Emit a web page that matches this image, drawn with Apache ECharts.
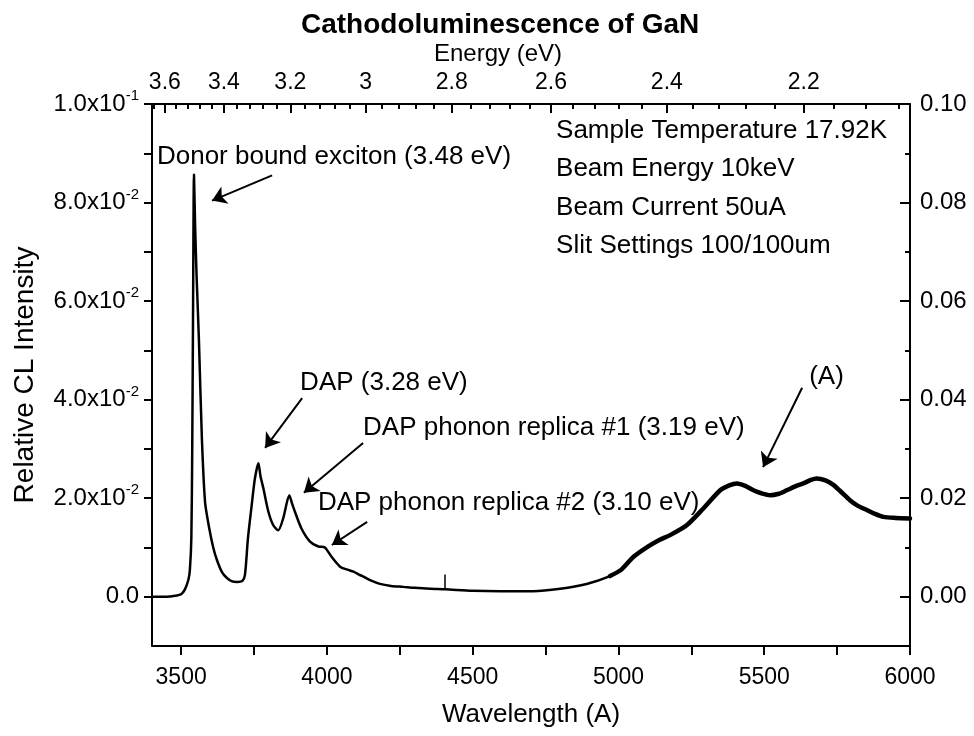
<!DOCTYPE html>
<html>
<head>
<meta charset="utf-8">
<title>Cathodoluminescence of GaN</title>
<script src="https://cdn.jsdelivr.net/npm/echarts@6/dist/echarts.min.js"></script>
<style>
html, body { margin: 0; padding: 0; background: #fff; }
#chart { width: 974px; height: 736px; }
</style>
</head>
<body>
<div id="chart"></div>
<script>
// spectrum: wavelength (A) / relative CL intensity
const wavelength = [
    3400, 3450, 3480, 3500, 3513, 3525, 3530, 3535, 3538, 3541, 3544,
    3548, 3553, 3561, 3571, 3582, 3596, 3610, 3623, 3640, 3657, 3675, 3692,
    3710, 3719, 3729, 3742, 3753, 3765, 3772, 3782, 3799, 3816, 3833, 3850,
    3871, 3880, 3890, 3913, 3942, 3971, 3993, 4016, 4045, 4070, 4091, 4110,
    4125, 4150, 4182, 4220, 4262, 4300, 4354, 4405, 4500, 4594, 4707, 4800,
    4891, 4971, 5010, 5050, 5097, 5140, 5177, 5234, 5291, 5349, 5380, 5406,
    5435, 5463, 5490, 5520, 5550, 5577, 5610, 5634, 5660, 5680, 5710, 5737,
    5765, 5794, 5820, 5852, 5880, 5909, 5950, 6000
]
const intensity = [
    0.0000, 0.0000, 0.0002, 0.0005, 0.0015, 0.0035, 0.0055, 0.0120, 0.0300, 0.0600, 0.0857,
    0.0750, 0.0650, 0.0520, 0.0323, 0.0192, 0.0140, 0.0100, 0.0074, 0.0050, 0.0038, 0.0031, 0.0030,
    0.0032, 0.0045, 0.0118, 0.0186, 0.0240, 0.0271, 0.0245, 0.0220, 0.0173, 0.0145, 0.0135, 0.0159,
    0.0206, 0.0190, 0.0173, 0.0138, 0.0112, 0.0102, 0.0100, 0.0081, 0.0061, 0.0055, 0.0051, 0.0045,
    0.0041, 0.0033, 0.0026, 0.0022, 0.0020, 0.0018, 0.0016, 0.0015, 0.0012, 0.0011, 0.0011, 0.0016,
    0.0026, 0.0042, 0.0055, 0.0080, 0.0100, 0.0115, 0.0125, 0.0145, 0.0179, 0.0216, 0.0226, 0.0230,
    0.0225, 0.0216, 0.0210, 0.0206, 0.0209, 0.0216, 0.0225, 0.0230, 0.0237, 0.0240, 0.0236, 0.0227,
    0.0212, 0.0196, 0.0185, 0.0176, 0.0168, 0.0162, 0.0160, 0.0159
]

const wavelengthLabels = [3500, 4000, 4500, 5000, 5500, 6000]
const wavelengthTicks = [3500, 3750, 4000, 4250, 4500, 4750, 5000, 5250, 5500, 5750, 6000]
const energyLabels = [3.6, 3.4, 3.2, 3.0, 2.8, 2.6, 2.4, 2.2]
const energyMinorTicks = [
    3.64, 3.60, 3.56, 3.52, 3.48, 3.44, 3.40, 3.36, 3.32, 3.28, 3.24, 3.20,
    3.16, 3.12, 3.08, 3.04, 3.00, 2.96, 2.92, 2.88, 2.84, 2.80, 2.76, 2.72,
    2.68, 2.64, 2.60, 2.56, 2.52, 2.48, 2.44, 2.40, 2.36, 2.32, 2.28, 2.24,
    2.20, 2.16, 2.12, 2.08
]
const intensityLabels = [0, 0.02, 0.04, 0.06, 0.08, 0.1]
const intensityTicks = [0, 0.01, 0.02, 0.03, 0.04, 0.05, 0.06, 0.07, 0.08, 0.09, 0.1]

// annotations (data coordinates)
const peakNames = [
    'Donor bound exciton (3.48 eV)',
    'DAP (3.28 eV)',
    'DAP phonon replica #1 (3.19 eV)',
    'DAP phonon replica #2 (3.10 eV)',
    '(A)'
]
const peakTextAt = [[3417, 0.0892], [3908, 0.0434], [4124, 0.0342], [3969, 0.0190], [5654, 0.0446]]
const arrowFrom = [[3812, 0.0855], [3915, 0.0403], [4124, 0.0312], [4138, 0.0152], [5630, 0.0424]]
const arrowTo = [[3606, 0.0804], [3788, 0.0302], [3921, 0.0211], [4017, 0.0105], [5496, 0.0263]]
// small vertical marker standing on the curve near 4400 A
const markerFrom = [4405, 0.0015]
const markerTo = [4405, 0.0045]

const infoLines = ['Sample Temperature 17.92K', 'Beam Energy 10keV', 'Beam Current 50uA', 'Slit Settings 100/100um']
const infoAt = [[4786, 0.0945], [4786, 0.0868], [4786, 0.0789], [4786, 0.0712]]

const HC = 12398.4 // eV * A
const toWl = e => HC / e
const FONT = 'Liberation Sans'
const BLACK = '#000'

// 8.0x10^-2 style labels
const sciLabel = (v) => {
    if (Math.abs(v) < 1e-9) return '{m|0.0}'
    const exp = Math.floor(Math.log10(v) + 1e-9)
    const mant = v / Math.pow(10, exp)
    return '{m|' + mant.toFixed(1) + 'x10}{s|' + exp + '}'
}

const line = { show: true, onZero: false, lineStyle: { color: BLACK, width: 2 } }
const tickStyle = { color: BLACK, width: 2 }
const textLabel = {
    show: true, position: [0, 0], align: 'left', verticalAlign: 'middle',
    formatter: '{b}', fontFamily: FONT, fontSize: 26, color: BLACK,
    textBorderWidth: 0, opacity: 1
}

const chart = echarts.init(document.getElementById('chart'))

const spectrum = wavelength.map((w, i) => [w, intensity[i]])
const noisyPart = spectrum.filter(p => p[0] >= 4971)

const option = {
    animation: false,
    textStyle: { fontFamily: FONT, color: BLACK },
    title: {
        text: 'Cathodoluminescence of GaN',
        left: 296,
        top: 6,
        textStyle: { fontFamily: FONT, fontSize: 28, fontWeight: 'bold', color: BLACK }
    },
    grid: { left: 152, right: 64, top: 104, bottom: 90 },
    xAxis: [
        {
            type: 'value', min: 3400, max: 6000, position: 'bottom',
            name: 'Wavelength (A)', nameLocation: 'middle', nameGap: 56,
            nameTextStyle: { fontFamily: FONT, fontSize: 26, color: BLACK },
            axisLine: line,
            axisTick: { show: true, customValues: wavelengthTicks, length: 9, lineStyle: tickStyle },
            axisLabel: {
                customValues: wavelengthLabels, margin: 20, fontSize: 23, color: BLACK, fontFamily: FONT,
                formatter: v => String(v)
            },
            splitLine: { show: false }
        },
        {
            type: 'value', min: 3400, max: 6000, position: 'top',
            name: 'Energy (eV)', nameLocation: 'middle', nameGap: 38,
            nameTextStyle: { fontFamily: FONT, fontSize: 24, color: BLACK, padding: [0, 66, 0, 0] },
            axisLine: line,
            axisTick: { show: true, inside: true, customValues: energyLabels.map(toWl), length: 9, lineStyle: tickStyle },
            axisLabel: {
                customValues: energyLabels.map(toWl), margin: 10, fontSize: 23, color: BLACK, fontFamily: FONT,
                formatter: v => String(+(HC / v).toFixed(2))
            },
            splitLine: { show: false }
        },
        {
            type: 'value', min: 3400, max: 6000, position: 'top',
            axisLine: { show: false, onZero: false },
            axisTick: { show: true, inside: true, customValues: energyMinorTicks.map(toWl), length: 5, lineStyle: tickStyle },
            axisLabel: { show: false },
            splitLine: { show: false }
        }
    ],
    yAxis: [
        {
            type: 'value', min: -0.01, max: 0.1, position: 'left',
            name: 'Relative CL Intensity', nameLocation: 'middle', nameGap: 113,
            nameTextStyle: { fontFamily: FONT, fontSize: 28, color: BLACK },
            axisLine: line,
            axisTick: { show: true, customValues: intensityTicks, length: 8, lineStyle: tickStyle },
            axisLabel: {
                customValues: intensityLabels, margin: 13, formatter: sciLabel,
                rich: {
                    m: { fontFamily: FONT, fontSize: 24, color: BLACK },
                    s: { fontFamily: FONT, fontSize: 15, color: BLACK, padding: [0, 0, 16, 0] }
                }
            },
            splitLine: { show: false }
        },
        {
            type: 'value', min: -0.01, max: 0.1, position: 'right',
            axisLine: line,
            axisTick: { show: true, inside: true, customValues: intensityLabels, length: 10, lineStyle: tickStyle },
            axisLabel: {
                customValues: intensityLabels, margin: 10, fontSize: 24, color: BLACK, fontFamily: FONT,
                formatter: v => v.toFixed(2)
            },
            splitLine: { show: false }
        },
        {
            type: 'value', min: -0.01, max: 0.1, position: 'right',
            axisLine: { show: false },
            axisTick: { show: true, inside: true, customValues: intensityTicks, length: 5, lineStyle: tickStyle },
            axisLabel: { show: false },
            splitLine: { show: false }
        }
    ],
    series: [
        {
            name: 'CL', type: 'line', data: spectrum, showSymbol: false, z: 5,
            smooth: 0.25,
            lineStyle: { color: BLACK, width: 2.5 }
        },
        {
            name: 'CL noisy', type: 'line', data: noisyPart, showSymbol: false, z: 5,
            smooth: 0.25,
            lineStyle: { color: BLACK, width: 4.5, cap: 'round' }
        },
        {
            name: 'peaks', type: 'scatter', symbolSize: 0, silent: true,
            data: peakNames.map((n, i) => ({ name: n, value: peakTextAt[i] })),
            label: textLabel,
            markLine: {
                silent: true, animation: false,
                symbol: ['none', 'arrow'], symbolSize: 14,
                lineStyle: { color: BLACK, width: 2, type: 'solid', opacity: 1 },
                label: { show: false },
                data: arrowFrom.map((a, i) => [{ coord: a }, { coord: arrowTo[i] }]).concat([
                    [{ coord: markerFrom, symbol: 'none' }, { coord: markerTo, symbol: 'none', lineStyle: { width: 1.5 } }]
                ])
            }
        },
        {
            name: 'info', type: 'scatter', symbolSize: 0, silent: true,
            data: infoLines.map((n, i) => ({ name: n, value: infoAt[i] })),
            label: textLabel
        }
    ]
}

chart.setOption(option)
</script>
</body>
</html>
